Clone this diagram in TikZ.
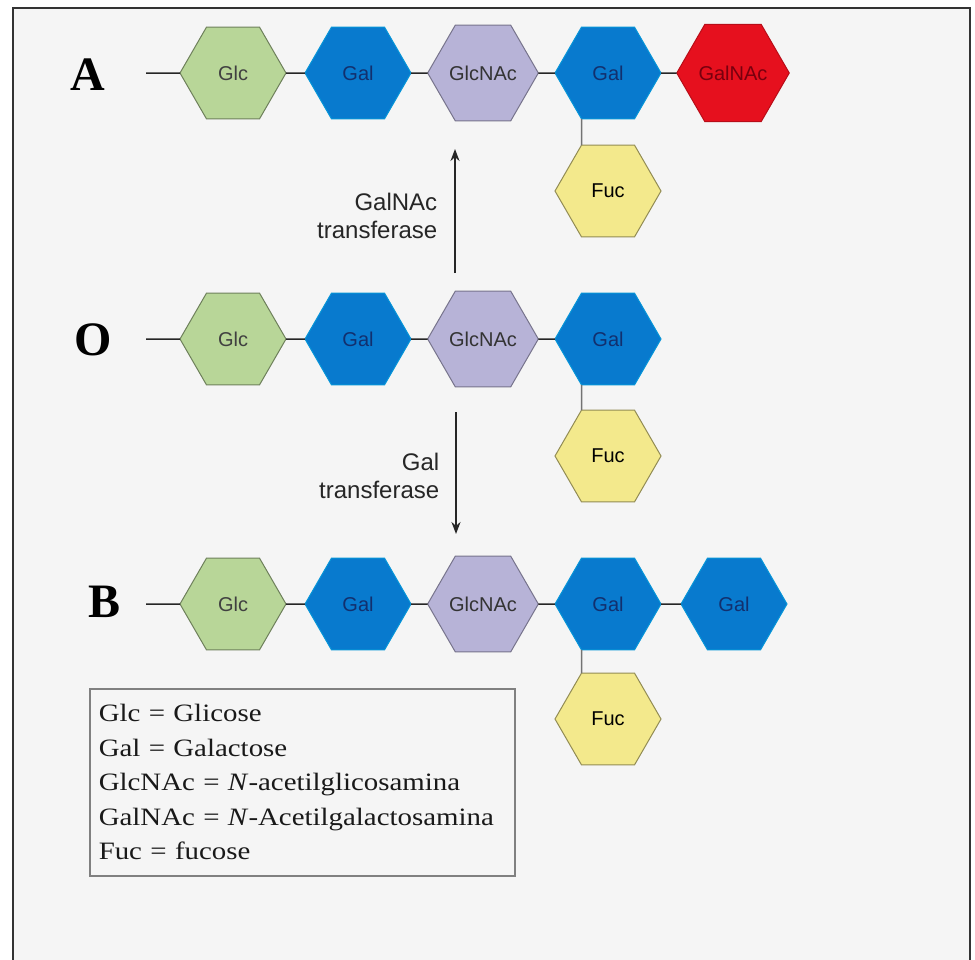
\documentclass[tikz,border=0pt]{standalone}
\usepackage{fontspec}
\setmainfont{Liberation Serif}
\setsansfont{Liberation Sans}
\newfontfamily\legendfont[FakeStretch=1.155]{Liberation Serif}
\usepackage{xcolor}
\usetikzlibrary{shapes.geometric}
\usetikzlibrary{arrows.meta}
\usetikzlibrary{positioning}

\definecolor{glcfill}{RGB}{184,214,152}
\definecolor{galfill}{RGB}{8,122,206}
\definecolor{glcnacfill}{RGB}{183,179,215}
\definecolor{galnacfill}{RGB}{230,16,30}
\definecolor{fucfill}{RGB}{243,233,140}
\definecolor{paper}{RGB}{245,245,245}

\begin{document}
\begin{tikzpicture}[x=1pt, y=-1pt, line width=1.5pt,
		sugar/.style={regular polygon, regular polygon sides=6, minimum size=106pt,
						inner sep=0pt, outer sep=0pt, line width=1pt,
						font=\sffamily\fontsize{20}{20}\selectfont},
		glc/.style={sugar, fill=glcfill, draw=glcfill!60!black, text=black!75},
		gal/.style={sugar, fill=galfill, draw=galfill!80!cyan, text={rgb,255:red,18;green,48;blue,110}},
		glcnac/.style={sugar, fill=glcnacfill, draw=glcnacfill!65!black, text=black!80},
		galnac/.style={sugar, fill=galnacfill, draw=galnacfill!80!black, text={rgb,255:red,120;green,0;blue,14}},
		fuc/.style={sugar, fill=fucfill, draw=fucfill!60!black, text=black},
		link/.style={black!85, line width=1.5pt},
		branch/.style={black!55, line width=1.5pt},
		rowname/.style={font=\bfseries\fontsize{48}{48}\selectfont, inner sep=0pt},
		enz/.style={font=\sffamily\fontsize{24}{28}\selectfont, align=right, anchor=east,
						inner sep=0pt, text=black!85},
		enzarrow/.style={-{Stealth[length=12pt, width=9pt]}, black!85, line width=2pt}]

		\useasboundingbox (0,0) rectangle (975,959);
		\fill[white] (0,0) rectangle (975,959);
		\fill[paper] (13,8) rectangle (970,980);
		\draw[black!80, line width=2pt] (13,980) -- (13,8) -- (970,8) -- (970,980);

		\begin{scope}[yshift=-73pt]
			\node[rowname] (rowA) at (88,2) {A};
			\coordinate (leadA) at (146,0);
			\node[glc] (glcA) at (233,0) {Glc};
			\node[gal] (galA1) at (358,0) {Gal};
			\node[glcnac] (glcnacA) at (483,0) {GlcNAc};
			\node[gal] (galA2) at (608,0) {Gal};
			\node[galnac] (galnacA) at (733,0) {GalNAc};
			\node[fuc] (fucA) at (608,118) {Fuc};
			\draw[link] (leadA) -- (glcA) -- (galA1) -- (glcnacA) -- (galA2) -- (galnacA);
			\draw[branch] (galA2.240) -- (fucA.120);
		\end{scope}

		\coordinate (upFrom) at (455,273);
		\coordinate (upTo) at (455,149);
		\draw[enzarrow] (upFrom) -- (upTo);
		\node[enz] (enzA) at (438,216) {GalNAc\\transferase};

		\begin{scope}[yshift=-339pt]
			\node[rowname] (rowO) at (93,1) {O};
			\coordinate (leadO) at (146,0);
			\node[glc] (glcO) at (233,0) {Glc};
			\node[gal] (galO1) at (358,0) {Gal};
			\node[glcnac] (glcnacO) at (483,0) {GlcNAc};
			\node[gal] (galO2) at (608,0) {Gal};
			\node[fuc] (fucO) at (608,117) {Fuc};
			\draw[link] (leadO) -- (glcO) -- (galO1) -- (glcnacO) -- (galO2);
			\draw[branch] (galO2.240) -- (fucO.120);
		\end{scope}

		\coordinate (downFrom) at (456,412);
		\coordinate (downTo) at (456,534);
		\draw[enzarrow] (downFrom) -- (downTo);
		\node[enz] (enzB) at (440,476) {Gal\\transferase};

		\begin{scope}[yshift=-604pt]
			\node[rowname] (rowB) at (105,-2) {B};
			\coordinate (leadB) at (146,0);
			\node[glc] (glcB) at (233,0) {Glc};
			\node[gal] (galB1) at (358,0) {Gal};
			\node[glcnac] (glcnacB) at (483,0) {GlcNAc};
			\node[gal] (galB2) at (608,0) {Gal};
			\node[gal] (galB3) at (734,0) {Gal};
			\node[fuc] (fucB) at (608,115) {Fuc};
			\draw[link] (leadB) -- (glcB) -- (galB1) -- (glcnacB) -- (galB2) -- (galB3);
			\draw[branch] (galB2.240) -- (fucB.120);
		\end{scope}

		\node[draw=black!50, line width=1.5pt, anchor=north west, minimum width=425pt,
			minimum height=187pt, text width=407pt, inner xsep=9pt, align=left,
			font=\legendfont\fontsize{25}{34.5}\selectfont, text=black!90] (key) at (89,688)
			{Glc = Glicose\\
			Gal = Galactose\\
			GlcNAc = \textit{N}-acetilglicosamina\\
			GalNAc = \textit{N}-Acetilgalactosamina\\
			Fuc = fucose};
	\end{tikzpicture}
\end{document}
